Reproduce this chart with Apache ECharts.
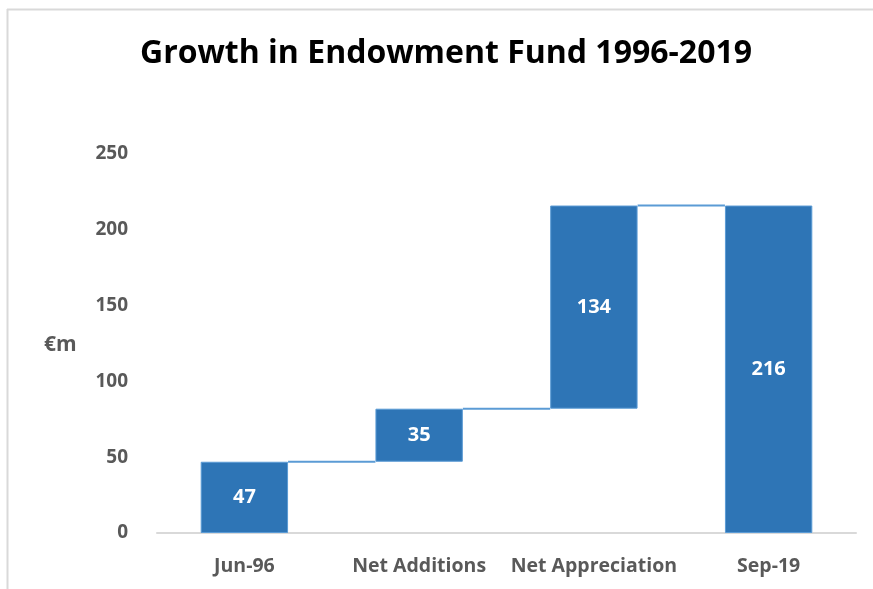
<!DOCTYPE html>
<html><head><meta charset="utf-8">
<script src="https://cdn.jsdelivr.net/npm/echarts@6/dist/echarts.min.js"></script>
<style>html,body{margin:0;padding:0;background:#fff}#c{width:873px;height:589px}</style>
</head><body><div id="c"></div>
<script>
const categories = ['Jun-96', 'Net Additions', 'Net Appreciation', 'Sep-19'];
const values = [47, 35, 134, 216];
const isTotal = [true, false, false, true];
const yTicks = [0, 50, 100, 150, 200, 250];

// invisible base for floating bars
const base = [];
let run = 0;
for (let i = 0; i < values.length; i++) {
  if (isTotal[i]) { base.push(0); run = values[i]; }
  else { base.push(run); run += values[i]; }
}
const tops = values.map((v, i) => base[i] + v);
const connectors = [];
for (let i = 0; i < values.length - 1; i++) connectors.push([i, tops[i]]);

const FONT = '"Open Sans", sans-serif';
const chart = echarts.init(document.getElementById('c'), null, {renderer: 'canvas'});
chart.setOption({
  animation: false,
  title: {
    text: 'Growth in Endowment Fund 1996-2019',
    left: 441, top: 33, textAlign: 'center',
    textStyle: {fontFamily: FONT, fontWeight: 'bold', fontSize: 32, color: '#000'}
  },
  graphic: [
    {type: 'line', shape: {x1: 7, y1: 9.5, x2: 873, y2: 9.5}, style: {stroke: '#d9d9d9', lineWidth: 2}},
    {type: 'line', shape: {x1: 7.5, y1: 9, x2: 7.5, y2: 589}, style: {stroke: '#d9d9d9', lineWidth: 2}},
    {type: 'text', left: 44, top: 335, style: {text: '€m', font: 'bold 21px ' + FONT, fill: '#595959'}}
  ],
  grid: {left: 157, right: 17, top: 154, bottom: 56, containLabel: false},
  xAxis: {
    type: 'category', data: categories,
    axisLine: {lineStyle: {color: '#d9d9d9', width: 2}},
    axisTick: {show: false},
    axisLabel: {interval: 0, fontFamily: FONT, fontWeight: 'bold', fontSize: 19.5, color: '#595959', margin: 23}
  },
  yAxis: {
    type: 'value', min: 0, max: 250, interval: 50,
    axisLine: {show: false}, axisTick: {show: false}, splitLine: {show: false},
    axisLabel: {fontFamily: FONT, fontWeight: 'bold', fontSize: 19, color: '#595959', margin: 29,
      formatter: v => yTicks.includes(v) ? String(v) : ''}
  },
  series: [
    {type: 'bar', stack: 'w', data: base, barWidth: '50%', itemStyle: {color: 'transparent'}, silent: true},
    {type: 'bar', stack: 'w', data: values, barWidth: '50%',
      itemStyle: {color: '#2e75b6', borderColor: '#5b9bd5', borderWidth: 1},
      label: {show: true, position: 'inside', fontFamily: FONT, fontWeight: 'bold', fontSize: 20, color: '#fff'}},
    {type: 'custom', data: connectors, z: 1,
      renderItem: function (params, api) {
        const i = api.value(0), y = api.value(1);
        const p1 = api.coord([i, y]);
        const p2 = api.coord([i + 1, y]);
        const half = api.size([1, 0])[0] * 0.25;
        return {type: 'line', shape: {x1: p1[0] + half, y1: p1[1], x2: p2[0] - half, y2: p2[1]},
          style: {stroke: '#5b9bd5', lineWidth: 2}};
      }}
  ]
});
</script></body></html>
